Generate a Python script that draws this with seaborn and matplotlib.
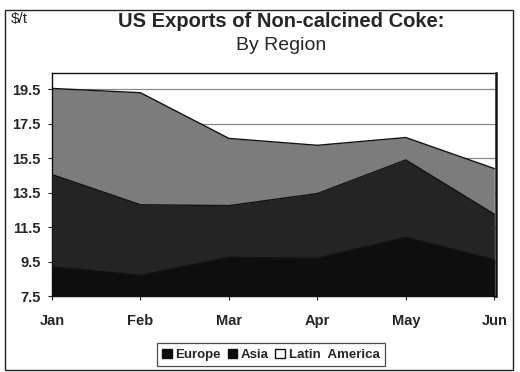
import matplotlib
matplotlib.use("Agg")
import matplotlib.pyplot as plt
import seaborn as sns
import pandas as pd
from matplotlib.patches import Rectangle, Patch

months = ["Jan", "Feb", "Mar", "Apr", "May", "Jun"]
europe = [9.2, 8.7, 9.75, 9.7, 10.9, 9.6]
asia = [14.55, 12.8, 12.75, 13.45, 15.4, 12.25]
latin_america = [19.55, 19.3, 16.65, 16.25, 16.7, 14.9]
y_ticks = [7.5, 9.5, 11.5, 13.5, 15.5, 17.5, 19.5]

sns.set_theme(style="white")
plt.rcParams["font.family"] = ["Liberation Sans", "DejaVu Sans"]

df = pd.DataFrame({"x": range(len(months)), "Europe": europe, "Asia": asia,
                   "Latin America": latin_america})

fig = plt.figure(figsize=(5.2, 3.72), dpi=100)
ax = fig.add_axes([0.1, 0.204, 0.854, 0.6])

ymin, ymax = 7.5, 20.45
colors = {"Latin America": "#7c7c7c", "Asia": "#242424", "Europe": "#0e0e0e"}

for yt in y_ticks[1:]:
    ax.axhline(yt, color="#8a8a8a", lw=0.9, zorder=0)

for i, name in enumerate(["Latin America", "Asia", "Europe"]):
    ax.fill_between(df["x"], ymin, df[name], color=colors[name], lw=0, zorder=1 + i)
    sns.lineplot(data=df, x="x", y=name, ax=ax, color="#111111", lw=1.0,
                 zorder=1.5 + i, legend=False)

ax.set_xlim(0, 5.02)
ax.set_ylim(ymin, ymax)
ax.set_xticks(range(len(months)))
ax.set_xticklabels(months, fontsize=10.5, fontweight="bold")
ax.set_yticks(y_ticks)
ax.set_yticklabels([f"{v:.1f}" for v in y_ticks], fontsize=10.5, fontweight="bold")
ax.set_xlabel("")
ax.set_ylabel("")
ax.tick_params(axis="both", length=3, width=0.8, color="#222222", pad=5,
               bottom=True, left=True)
ax.tick_params(axis="x", pad=10)
for s in ax.spines.values():
    s.set_color("#111111")
    s.set_linewidth(1.0)
ax.spines["right"].set_linewidth(1.8)

fig.text(0.541, 0.943, "US Exports of Non-calcined Coke:", ha="center", va="center",
         fontsize=14.5, fontweight="bold")
fig.text(0.54, 0.877, "By Region", ha="center", va="center", fontsize=14)
fig.text(0.02, 0.95, "$/t", ha="left", va="center", fontsize=11)

handles = [Patch(facecolor="#0e0e0e", edgecolor="#0e0e0e"),
           Patch(facecolor="#0e0e0e", edgecolor="#0e0e0e"),
           Patch(facecolor="white", edgecolor="#111111")]
leg = fig.legend(handles, ["Europe", "Asia", "Latin  America"], loc="center",
                 bbox_to_anchor=(0.521, 0.046), ncol=3, frameon=True,
                 prop={"size": 9.5, "weight": "bold"},
                 handlelength=0.7, handleheight=0.7, handletextpad=0.3,
                 columnspacing=0.5, borderpad=0.4, fancybox=False)
leg.get_frame().set_edgecolor("#222222")
leg.get_frame().set_linewidth(0.9)

fig.add_artist(Rectangle((5 / 520, 2 / 372), 508 / 520, 360 / 372,
                         transform=fig.transFigure, fill=False,
                         edgecolor="#222222", lw=1.0))

fig.savefig("out.png", dpi=100)
